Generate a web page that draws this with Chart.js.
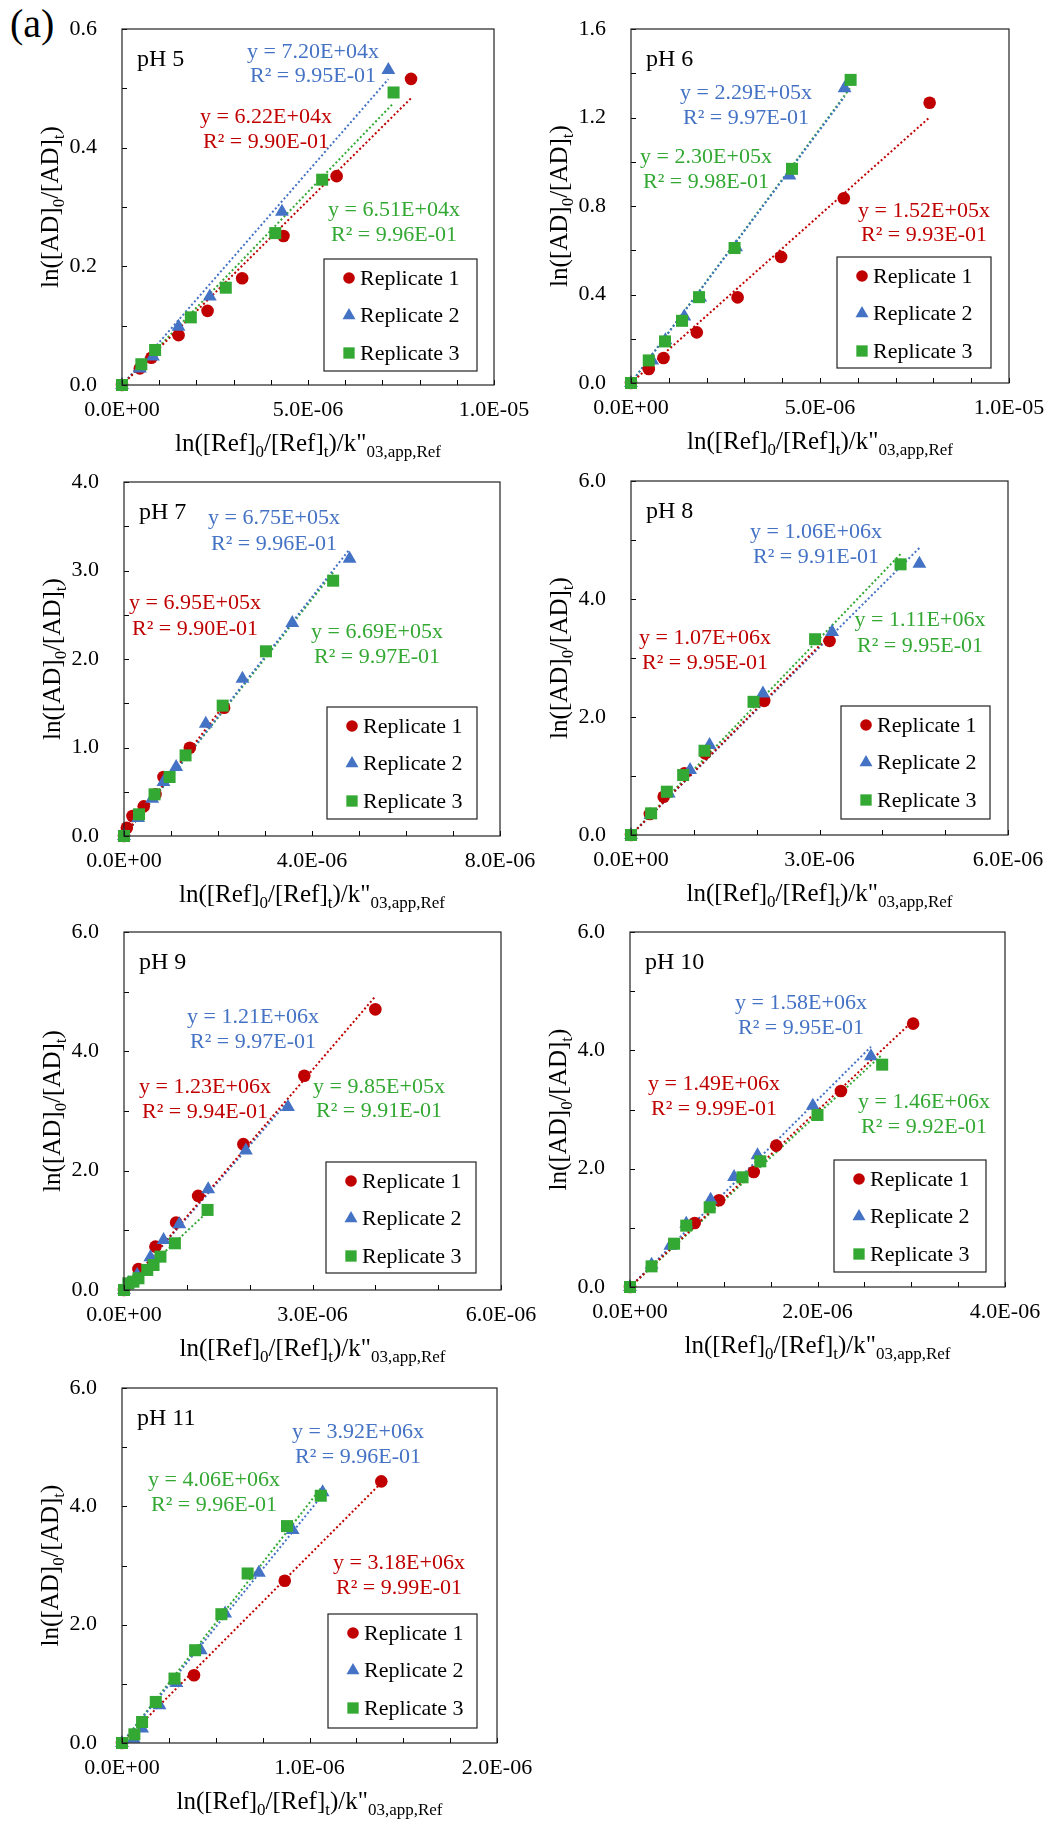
<!DOCTYPE html>
<html>
<head>
<meta charset="utf-8">
<script src="https://cdn.jsdelivr.net/npm/chart.js@4.4.1/dist/chart.umd.min.js"></script>
<style>
  body { margin: 0; background: #fff; width: 1053px; height: 1821px; position: relative; overflow: hidden; }
  canvas { position: absolute; }
  #tag { position: absolute; left: 10px; top: 4px; font: 40px "Liberation Serif", serif; line-height: 40px; color: #000; }
</style>
</head>
<body>
<div id="tag">(a)</div>
<script>
// series names
var seriesNames = ['Replicate 1', 'Replicate 2', 'Replicate 3'];

// x values are in units of 1E-6
var X_UNIT = 1e-6;

// pH 5
var ph5Rep1X = [0, 0.48, 0.79, 1.52, 2.30, 3.23, 4.34, 5.77, 7.77];
var ph5Rep1Y = [0, 0.028, 0.046, 0.084, 0.125, 0.180, 0.251, 0.352, 0.516];
var ph5Rep2X = [0, 0.48, 0.83, 1.52, 2.36, 4.30, 7.16];
var ph5Rep2Y = [0, 0.028, 0.048, 0.098, 0.149, 0.292, 0.531];
var ph5Rep3X = [0, 0.52, 0.89, 1.85, 2.79, 4.12, 5.38, 7.30];
var ph5Rep3Y = [0, 0.035, 0.059, 0.114, 0.164, 0.256, 0.346, 0.493];
var ph5Slopes = [6.22e4, 7.20e4, 6.51e4];
var ph5R2 = [0.990, 0.995, 0.996];
var ph5XTicks = [0, 5e-6, 1e-5];
var ph5YTicks = [0, 0.2, 0.4, 0.6];

// pH 6
var ph6Rep1X = [0, 0.47, 0.86, 1.74, 2.82, 3.97, 5.63, 7.90];
var ph6Rep1Y = [0, 0.063, 0.113, 0.229, 0.387, 0.570, 0.835, 1.267];
var ph6Rep2X = [0, 0.56, 0.91, 1.41, 1.83, 2.78, 4.19, 5.65];
var ph6Rep2Y = [0, 0.102, 0.193, 0.301, 0.387, 0.614, 0.938, 1.332];
var ph6Rep3X = [0, 0.47, 0.90, 1.35, 1.80, 2.74, 4.26, 5.81];
var ph6Rep3Y = [0, 0.102, 0.188, 0.281, 0.388, 0.610, 0.968, 1.370];
var ph6Slopes = [1.52e5, 2.29e5, 2.30e5];
var ph6R2 = [0.993, 0.997, 0.998];
var ph6XTicks = [0, 5e-6, 1e-5];
var ph6YTicks = [0, 0.4, 0.8, 1.2, 1.6];

// pH 7
var ph7Rep1X = [0, 0.06, 0.18, 0.42, 0.67, 0.84, 1.40, 2.13];
var ph7Rep1Y = [0, 0.094, 0.226, 0.335, 0.471, 0.667, 0.998, 1.450];
var ph7Rep2X = [0, 0.30, 0.60, 0.84, 1.11, 1.74, 2.52, 3.58, 4.80];
var ph7Rep2Y = [0, 0.203, 0.422, 0.610, 0.780, 1.269, 1.778, 2.407, 3.134];
var ph7Rep3X = [0, 0.32, 0.65, 0.97, 1.31, 2.10, 3.02, 4.45];
var ph7Rep3Y = [0, 0.245, 0.471, 0.667, 0.911, 1.473, 2.087, 2.885];
var ph7Slopes = [6.95e5, 6.75e5, 6.69e5];
var ph7R2 = [0.990, 0.996, 0.997];
var ph7XTicks = [0, 4e-6, 8e-6];
var ph7YTicks = [0, 1, 2, 3, 4];

// pH 8
var ph8Rep1X = [0, 0.30, 0.52, 0.85, 1.18, 2.12, 3.16];
var ph8Rep1Y = [0, 0.356, 0.649, 1.044, 1.383, 2.274, 3.290];
var ph8Rep2X = [0, 0.31, 0.60, 0.94, 1.25, 2.10, 3.20, 4.59];
var ph8Rep2Y = [0, 0.339, 0.705, 1.100, 1.524, 2.398, 3.442, 4.599];
var ph8Rep3X = [0, 0.32, 0.57, 0.83, 1.17, 1.95, 2.93, 4.29];
var ph8Rep3Y = [0, 0.367, 0.734, 1.016, 1.428, 2.257, 3.318, 4.588];
var ph8Slopes = [1.07e6, 1.06e6, 1.11e6];
var ph8R2 = [0.995, 0.991, 0.995];
var ph8XTicks = [0, 3e-6, 6e-6];
var ph8YTicks = [0, 2, 4, 6];

// pH 9
var ph9Rep1X = [0, 0.23, 0.50, 0.83, 1.18, 1.90, 2.87, 4.00];
var ph9Rep1Y = [0, 0.352, 0.727, 1.130, 1.577, 2.444, 3.591, 4.704];
var ph9Rep2X = [0, 0.07, 0.21, 0.42, 0.63, 0.88, 1.34, 1.94, 2.61];
var ph9Rep2Y = [0, 0.112, 0.252, 0.548, 0.839, 1.102, 1.689, 2.338, 3.065];
var ph9Rep3X = [0, 0.07, 0.15, 0.23, 0.37, 0.47, 0.58, 0.81, 1.33];
var ph9Rep3Y = [0, 0.112, 0.140, 0.196, 0.336, 0.419, 0.559, 0.783, 1.342];
var ph9Slopes = [1.23e6, 1.21e6, 9.85e5];
var ph9R2 = [0.994, 0.997, 0.991];
var ph9XTicks = [0, 3e-6, 6e-6];
var ph9YTicks = [0, 2, 4, 6];

// pH 10
var ph10Rep1X = [0, 0.69, 0.95, 1.32, 1.56, 2.25, 3.02];
var ph10Rep1Y = [0, 1.082, 1.465, 1.944, 2.389, 3.313, 4.451];
var ph10Rep2X = [0, 0.23, 0.43, 0.60, 0.86, 1.11, 1.36, 1.95, 2.57];
var ph10Rep2Y = [0, 0.377, 0.699, 1.070, 1.476, 1.859, 2.225, 3.065, 3.899];
var ph10Rep3X = [0, 0.23, 0.47, 0.60, 0.85, 1.20, 1.39, 2.00, 2.69];
var ph10Rep3Y = [0, 0.349, 0.732, 1.037, 1.346, 1.854, 2.124, 2.907, 3.758];
var ph10Slopes = [1.49e6, 1.58e6, 1.46e6];
var ph10R2 = [0.999, 0.995, 0.992];
var ph10XTicks = [0, 2e-6, 4e-6];
var ph10YTicks = [0, 2, 4, 6];

// pH 11
var ph11Rep1X = [0, 0.384, 0.868, 1.383];
var ph11Rep1Y = [0, 1.145, 2.741, 4.422];
var ph11Rep2X = [0, 0.062, 0.107, 0.20, 0.29, 0.42, 0.55, 0.73, 0.91, 1.07];
var ph11Rep2Y = [0, 0.073, 0.243, 0.637, 1.015, 1.568, 2.188, 2.877, 3.598, 4.236];
var ph11Rep3X = [0, 0.066, 0.107, 0.18, 0.28, 0.39, 0.53, 0.67, 0.88, 1.06];
var ph11Rep3Y = [0, 0.147, 0.355, 0.694, 1.089, 1.568, 2.177, 2.865, 3.666, 4.179];
var ph11Slopes = [3.18e6, 3.92e6, 4.06e6];
var ph11R2 = [0.999, 0.996, 0.996];
var ph11XTicks = [0, 1e-6, 2e-6];
var ph11YTicks = [0, 2, 4, 6];

var FONT = '"Liberation Serif", "Times New Roman", serif';
var COLORS = ['#C00000', '#4472C4', '#33A833'];
var STYLES = ['circle', 'triangle', 'rect'];
var RADII = [6.3, 8, 8.5];

// page layout: plot box [l, t, r, b], legend box, equation label centres [x, y line1, y line2]
var panels = [
  {title: 'pH 5', xs: [ph5Rep1X, ph5Rep2X, ph5Rep3X], ys: [ph5Rep1Y, ph5Rep2Y, ph5Rep3Y], slopes: ph5Slopes, r2: ph5R2,
   xTicks: ph5XTicks, yTicks: ph5YTicks, xMinor: 1e-6, yMinor: 0.1,
   plot: [122, 29, 494, 385], legend: [324, 259, 477, 371], notes: [[266, 117, 142], [313, 52, 76], [394, 210, 235]]},
  {title: 'pH 6', xs: [ph6Rep1X, ph6Rep2X, ph6Rep3X], ys: [ph6Rep1Y, ph6Rep2Y, ph6Rep3Y], slopes: ph6Slopes, r2: ph6R2,
   xTicks: ph6XTicks, yTicks: ph6YTicks, xMinor: 1e-6, yMinor: 0.2,
   plot: [631, 29, 1009, 383], legend: [837, 257, 991, 368], notes: [[924, 211, 235], [746, 93, 118], [706, 157, 182]]},
  {title: 'pH 7', xs: [ph7Rep1X, ph7Rep2X, ph7Rep3X], ys: [ph7Rep1Y, ph7Rep2Y, ph7Rep3Y], slopes: ph7Slopes, r2: ph7R2,
   xTicks: ph7XTicks, yTicks: ph7YTicks, xMinor: 1e-6, yMinor: 0.5,
   plot: [124, 482, 500, 836], legend: [327, 707, 477, 819], notes: [[195, 603, 629], [274, 518, 544], [377, 632, 657]]},
  {title: 'pH 8', xs: [ph8Rep1X, ph8Rep2X, ph8Rep3X], ys: [ph8Rep1Y, ph8Rep2Y, ph8Rep3Y], slopes: ph8Slopes, r2: ph8R2,
   xTicks: ph8XTicks, yTicks: ph8YTicks, xMinor: 1e-6, yMinor: 1,
   plot: [631, 481, 1008, 835], legend: [841, 706, 990, 819], notes: [[705, 638, 663], [816, 532, 557], [920, 620, 646]]},
  {title: 'pH 9', xs: [ph9Rep1X, ph9Rep2X, ph9Rep3X], ys: [ph9Rep1Y, ph9Rep2Y, ph9Rep3Y], slopes: ph9Slopes, r2: ph9R2,
   xTicks: ph9XTicks, yTicks: ph9YTicks, xMinor: 1e-6, yMinor: 1,
   plot: [124, 932, 501, 1290], legend: [326, 1162, 476, 1273], notes: [[205, 1087, 1112], [253, 1017, 1042], [379, 1087, 1111]]},
  {title: 'pH 10', xs: [ph10Rep1X, ph10Rep2X, ph10Rep3X], ys: [ph10Rep1Y, ph10Rep2Y, ph10Rep3Y], slopes: ph10Slopes, r2: ph10R2,
   xTicks: ph10XTicks, yTicks: ph10YTicks, xMinor: 0.5e-6, yMinor: 1,
   plot: [630, 932, 1005, 1287], legend: [834, 1160, 986, 1272], notes: [[714, 1084, 1109], [801, 1003, 1028], [924, 1102, 1127]]},
  {title: 'pH 11', xs: [ph11Rep1X, ph11Rep2X, ph11Rep3X], ys: [ph11Rep1Y, ph11Rep2Y, ph11Rep3Y], slopes: ph11Slopes, r2: ph11R2,
   xTicks: ph11XTicks, yTicks: ph11YTicks, xMinor: 0.25e-6, yMinor: 1,
   plot: [122, 1388, 497, 1743], legend: [328, 1614, 477, 1728], notes: [[399, 1563, 1588], [358, 1432, 1457], [214, 1480, 1505]]}
];

function sci(v, digits) {
  if (Math.abs(v) < 1e-20) return (0).toFixed(digits) + 'E+00';
  var p = v.toExponential(digits).split('e');
  var e = parseInt(p[1], 10);
  return p[0] + 'E' + (e < 0 ? '-' : '+') + (Math.abs(e) < 10 ? '0' : '') + Math.abs(e);
}

function inList(v, list) {
  for (var i = 0; i < list.length; i++) {
    if (Math.abs(v - list[i]) <= Math.abs(list[list.length - 1]) * 1e-6) return true;
  }
  return false;
}

function drawMarker(ctx, style, x, y, r, color) {
  ctx.fillStyle = color;
  ctx.beginPath();
  if (style === 'circle') {
    ctx.arc(x, y, r, 0, Math.PI * 2);
  } else if (style === 'triangle') {
    ctx.moveTo(x, y - r);
    ctx.lineTo(x + r * 0.866, y + r * 0.5);
    ctx.lineTo(x - r * 0.866, y + r * 0.5);
    ctx.closePath();
  } else {
    ctx.rect(x - r * 0.707, y - r * 0.707, r * 1.414, r * 1.414);
  }
  ctx.fill();
}

// text with subscripts: parts = [[text, isSub], ...], centred on x, baseline y
function drawSubText(ctx, parts, x, y) {
  var big = '25px ' + FONT, small = '17px ' + FONT;
  var total = 0;
  parts.forEach(function(pt) { ctx.font = pt[1] ? small : big; total += ctx.measureText(pt[0]).width; });
  var cx = x - total / 2;
  ctx.textAlign = 'left';
  ctx.textBaseline = 'alphabetic';
  parts.forEach(function(pt) {
    ctx.font = pt[1] ? small : big;
    ctx.fillText(pt[0], cx, y + (pt[1] ? 6 : 0));
    cx += ctx.measureText(pt[0]).width;
  });
}

var xTitle = [['ln([Ref]', 0], ['0', 1], ['/[Ref]', 0], ['t', 1], [')/k"', 0], ['03,app,Ref', 1]];
var yTitle = [['ln([AD]', 0], ['0', 1], ['/[AD]', 0], ['t', 1], [')', 0]];

function decor(p) {
  return {
    id: 'decor',
    afterDatasetsDraw: function(chart) {
      var ctx = chart.ctx, a = chart.chartArea, sx = chart.scales.x, sy = chart.scales.y;
      var ox = p.origin[0], oy = p.origin[1];
      ctx.save();
      // inward tick marks
      ctx.strokeStyle = '#000';
      ctx.lineWidth = 1;
      ctx.beginPath();
      sx.ticks.forEach(function(t) {
        var px = Math.round(sx.getPixelForValue(t.value)) + 0.5;
        ctx.moveTo(px, a.bottom); ctx.lineTo(px, a.bottom - 5);
      });
      sy.ticks.forEach(function(t) {
        var py = Math.round(sy.getPixelForValue(t.value)) + 0.5;
        ctx.moveTo(a.left, py); ctx.lineTo(a.left + 5, py);
      });
      ctx.stroke();
      // frame
      ctx.strokeStyle = '#222';
      ctx.lineWidth = 1.2;
      ctx.strokeRect(a.left, a.top, a.right - a.left, a.bottom - a.top);
      // panel label
      ctx.fillStyle = '#000';
      ctx.font = '24px ' + FONT;
      ctx.textAlign = 'left';
      ctx.textBaseline = 'middle';
      ctx.fillText(p.title, a.left + 15, a.top + 31);
      // equations
      ctx.font = '22px ' + FONT;
      ctx.textAlign = 'center';
      for (var i = 0; i < 3; i++) {
        var n = p.notes[i];
        ctx.fillStyle = COLORS[i];
        ctx.fillText('y = ' + sci(p.slopes[i], 2) + 'x', n[0] - ox, n[1] - oy);
        ctx.fillText('R\u00B2 = ' + sci(p.r2[i], 2), n[0] - ox, n[2] - oy);
      }
      // legend
      var L = p.legend;
      var lx = L[0] - ox, ly = L[1] - oy, lw = L[2] - L[0], lh = L[3] - L[1];
      ctx.fillStyle = '#fff';
      ctx.fillRect(lx, ly, lw, lh);
      ctx.strokeStyle = '#222';
      ctx.lineWidth = 1.2;
      ctx.strokeRect(lx, ly, lw, lh);
      ctx.font = '22px ' + FONT;
      ctx.textAlign = 'left';
      ctx.textBaseline = 'middle';
      var legR = [5.8, 7.5, 8];
      for (var k = 0; k < 3; k++) {
        var rowY = ly + 19 + k * 37.5;
        drawMarker(ctx, STYLES[k], lx + 25, rowY, legR[k], COLORS[k]);
        ctx.fillStyle = '#000';
        ctx.fillText(seriesNames[k], lx + 36, rowY + 1);
      }
      // axis titles
      ctx.fillStyle = '#000';
      drawSubText(ctx, xTitle, (a.left + a.right) / 2, a.bottom + 66);
      ctx.save();
      ctx.translate(a.left - 64, (a.top + a.bottom) / 2);
      ctx.rotate(-Math.PI / 2);
      drawSubText(ctx, yTitle, 0, 0);
      ctx.restore();
      ctx.restore();
    }
  };
}

panels.forEach(function(p) {
  var cl = p.plot[0] < 527 ? 0 : 527;
  var cw = cl === 0 ? 545 : 526;
  var ct = p.plot[1] - 29;
  var ch = p.plot[3] - ct + 80;
  p.origin = [cl, ct];
  var cv = document.createElement('canvas');
  cv.width = cw;
  cv.height = ch;
  cv.style.left = cl + 'px';
  cv.style.top = ct + 'px';
  document.body.appendChild(cv);

  var datasets = [];
  for (var i = 0; i < 3; i++) {
    var xs = p.xs[i], ys = p.ys[i];
    var pts = xs.map(function(x, j) { return {x: x * X_UNIT, y: ys[j]}; });
    datasets.push({
      label: seriesNames[i], data: pts, pointStyle: STYLES[i], pointRadius: RADII[i],
      backgroundColor: COLORS[i], borderWidth: 0, pointBorderWidth: 0, order: 3 - i, clip: false
    });
    var xEnd = Math.max.apply(null, xs) * X_UNIT;
    datasets.push({
      label: seriesNames[i] + ' fit', data: [{x: 0, y: 0}, {x: xEnd, y: p.slopes[i] * xEnd}],
      showLine: true, pointRadius: 0, borderColor: COLORS[i], borderWidth: 2, borderDash: [2, 2.4],
      order: 10 + i, clip: false
    });
  }

  var xMax = p.xTicks[p.xTicks.length - 1], yMax = p.yTicks[p.yTicks.length - 1];
  new Chart(cv, {
    type: 'scatter',
    data: {datasets: datasets},
    options: {
      responsive: false,
      animation: false,
      events: [],
      layout: {padding: {left: 0, top: p.plot[1] - ct, right: cl + cw - p.plot[2], bottom: 0}},
      plugins: {legend: {display: false}, tooltip: {enabled: false}},
      scales: {
        x: {
          type: 'linear', position: 'bottom', min: 0, max: xMax,
          grid: {display: false, drawTicks: false}, border: {display: false},
          ticks: {
            stepSize: p.xMinor, autoSkip: false, maxRotation: 0, minRotation: 0, padding: 12,
            color: '#000', font: {family: FONT, size: 22},
            callback: function(v) { return inList(v, p.xTicks) ? sci(v, 1) : ''; }
          },
          afterFit: function(s) { s.height = ct + ch - p.plot[3]; s.paddingLeft = 0; s.paddingRight = 0; }
        },
        y: {
          type: 'linear', position: 'left', min: 0, max: yMax,
          grid: {display: false, drawTicks: false}, border: {display: false},
          ticks: {
            stepSize: p.yMinor, autoSkip: false, padding: 25,
            color: '#000', font: {family: FONT, size: 22},
            callback: function(v) { return inList(v, p.yTicks) ? v.toFixed(1) : ''; }
          },
          afterFit: function(s) { s.width = p.plot[0] - cl; s.paddingTop = 0; s.paddingBottom = 0; }
        }
      }
    },
    plugins: [decor(p)]
  });
});
</script>
</body>
</html>
